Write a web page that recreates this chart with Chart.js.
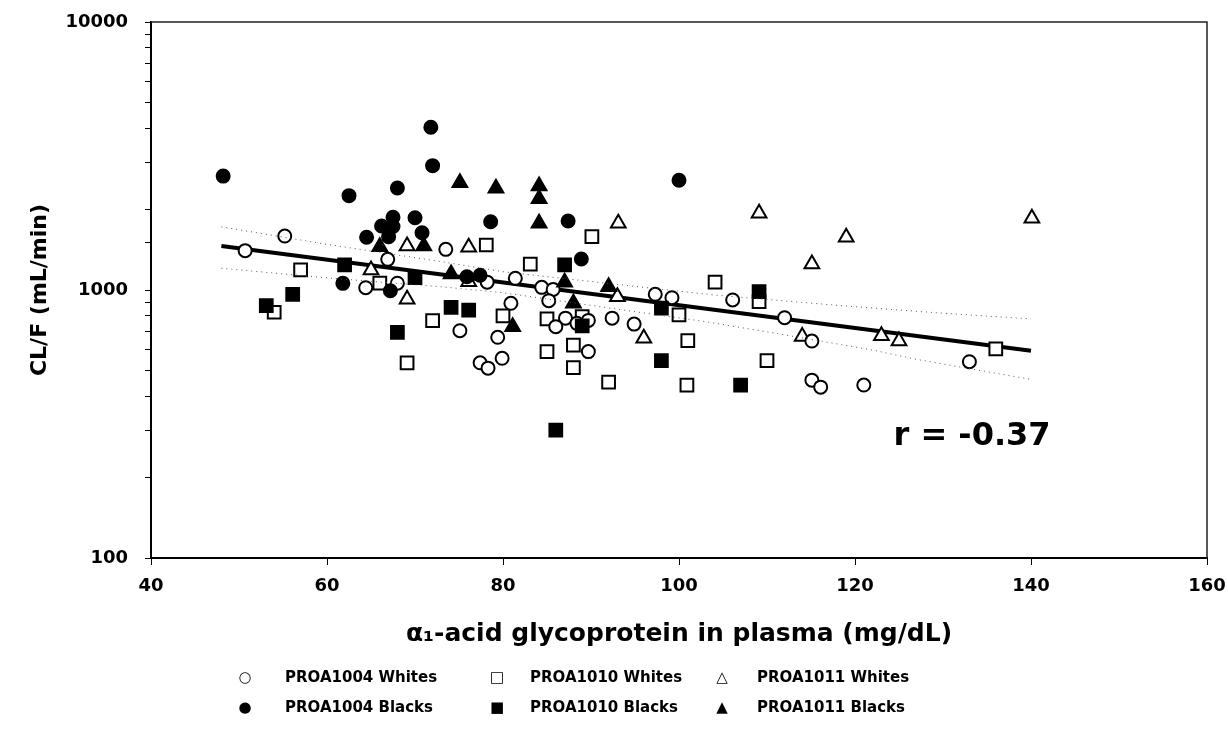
<!DOCTYPE html>
<html>
<head>
<meta charset="utf-8">
<script src="https://cdn.jsdelivr.net/npm/chart.js@4.4.1/dist/chart.umd.min.js"></script>
<style>
  body { margin: 0; background: #fff; }
  #wrap { position: relative; width: 1228px; height: 744px; }
  #legend { position: absolute; left: 0; top: 0; width: 1228px; height: 744px; pointer-events: none;
            font-family: "DejaVu Sans", sans-serif; font-weight: bold; font-size: 15px; color: #000; }
  .sym { position: absolute; width: 20px; text-align: center; font-size: 15px; transform: translate(-50%, -50%); }
  .lbl { position: absolute; transform: translateY(-50%); white-space: nowrap; }
</style>
</head>
<body>
<div id="wrap">
  <canvas id="chart"></canvas>
  <div id="legend"></div>
</div>
<script>
// series values (x = AGP mg/dL, y = CL/F mL/min)
const w1004X = [50.7, 55.2, 66.9, 68.0, 64.4, 73.5, 78.2, 81.4, 84.4, 85.7, 85.2, 80.9, 75.1, 79.4, 87.1, 88.4, 89.7, 86.0, 92.4, 94.9, 97.3, 99.2, 77.4, 78.3, 79.9, 89.7, 106.1, 112.0, 115.1, 115.1, 116.1, 121.0, 133.0];
const w1004Y = [1402, 1590, 1301, 1060, 1020, 1418, 1070, 1106, 1023, 1005, 912, 892, 705, 666, 785, 751, 770, 730, 785, 746, 964, 936, 535, 511, 556, 589, 918, 788, 645, 461, 434, 442, 540];

const b1004X = [48.2, 71.8, 72.0, 62.5, 68.0, 67.5, 70.0, 66.2, 67.5, 70.8, 64.5, 67.0, 61.8, 67.2, 75.9, 77.4, 78.6, 87.4, 88.9, 100.0];
const b1004Y = [2661, 4046, 2910, 2249, 2402, 1868, 1860, 1733, 1725, 1636, 1573, 1580, 1059, 994, 1120, 1135, 1798, 1810, 1305, 2567];

const w1010X = [54.0, 57.0, 66.0, 69.1, 72.0, 78.1, 80.0, 83.1, 85.0, 85.0, 88.0, 88.0, 89.0, 90.1, 92.0, 100.0, 101.0, 100.9, 104.1, 109.1, 110.0, 136.0];
const w1010Y = [826, 1188, 1060, 535, 768, 1472, 800, 1250, 780, 589, 623, 513, 795, 1581, 453, 807, 647, 442, 1069, 905, 545, 603];

const b1010X = [53.1, 56.1, 62.0, 68.0, 70.0, 74.1, 76.1, 86.0, 87.0, 89.0, 98.0, 98.0, 107.0, 109.1];
const b1010Y = [874, 964, 1240, 695, 1112, 861, 842, 300, 1240, 735, 855, 545, 442, 986];

const w1011X = [65.0, 69.1, 69.1, 76.1, 76.1, 93.1, 93.0, 96.0, 109.1, 114.0, 115.1, 119.0, 123.0, 125.0, 140.1];
const w1011Y = [1188, 1460, 923, 1444, 1074, 1773, 944, 661, 1933, 670, 1250, 1573, 675, 645, 1852];

const b1011X = [66.0, 71.0, 74.1, 75.1, 79.2, 84.1, 84.1, 84.1, 81.1, 87.0, 88.0, 92.0];
const b1011Y = [1451, 1460, 1148, 2512, 2395, 2443, 2191, 1773, 730, 1070, 892, 1029];

// regression line and its dotted confidence band
const fitX = [48, 140];
const fitY = [1459, 593];
const upperX = [48, 60, 73, 80, 96, 104, 119, 130, 140];
const upperY = [1720, 1480, 1276, 1170, 1023, 958, 871, 819, 780];
const lowerX = [48, 60, 73, 80, 95, 103, 111, 122, 127, 140];
const lowerY = [1205, 1110, 1028, 977, 830, 762, 689, 597, 551, 464];

const seriesNames = ['PROA1004 Whites', 'PROA1010 Whites', 'PROA1011 Whites',
                     'PROA1004 Blacks', 'PROA1010 Blacks', 'PROA1011 Blacks'];
const yTickLabels = [100, 1000, 10000];
const rText = 'r = -0.37';

const pts = (xs, ys) => xs.map((x, i) => ({ x: x, y: ys[i] }));

function markers(label, xs, ys, style, filled) {
    return {
        label: label,
        data: pts(xs, ys),
        pointStyle: style,
        pointRadius: style === 'circle' ? 6.5 : (style === 'rect' ? 9 : 8.5),
        pointBorderWidth: 2,
        pointBorderColor: '#000',
        pointBackgroundColor: filled ? '#000' : '#fff',
        showLine: false
    };
}

function line(xs, ys, width, dash, color) {
    return {
        label: '',
        data: pts(xs, ys),
        showLine: true,
        pointRadius: 0,
        borderColor: color,
        borderWidth: width,
        borderDash: dash,
        fill: false
    };
}

const frame = {
    id: 'frame',
    afterDraw(chart) {
        const { ctx, chartArea: a, scales } = chart;
        ctx.save();
        ctx.strokeStyle = '#222';
        ctx.lineWidth = 1.5;
        ctx.beginPath();
        ctx.moveTo(a.left, a.top);
        ctx.lineTo(a.right, a.top);
        ctx.lineTo(a.right, a.bottom);
        ctx.stroke();
        ctx.fillStyle = '#000';
        ctx.font = 'bold 32px "DejaVu Sans"';
        ctx.textAlign = 'center';
        ctx.textBaseline = 'middle';
        ctx.fillText(rText, scales.x.getPixelForValue(133.3), scales.y.getPixelForValue(283));
        ctx.restore();
    }
};

const bold = (size) => ({ family: '"DejaVu Sans", sans-serif', weight: 'bold', size: size });

new Chart(document.getElementById('chart'), {
    type: 'scatter',
    data: {
        datasets: [
            line(upperX, upperY, 1, [1, 4], '#555'),
            line(lowerX, lowerY, 1, [1, 4], '#555'),
            markers(seriesNames[3], b1004X, b1004Y, 'circle', true),
            markers(seriesNames[4], b1010X, b1010Y, 'rect', true),
            markers(seriesNames[5], b1011X, b1011Y, 'triangle', true),
            markers(seriesNames[0], w1004X, w1004Y, 'circle', false),
            markers(seriesNames[1], w1010X, w1010Y, 'rect', false),
            markers(seriesNames[2], w1011X, w1011Y, 'triangle', false),
            line(fitX, fitY, 4, [], '#000')
        ]
    },
    options: {
        responsive: true,
        maintainAspectRatio: false,
        animation: false,
        layout: { padding: { top: 22, right: 21, left: 0, bottom: 0 } },
        plugins: { legend: { display: false }, tooltip: { enabled: false } },
        scales: {
            x: {
                type: 'linear',
                min: 40, max: 160,
                afterFit: (s) => { s.height = 186; s.paddingLeft = 0; s.paddingRight = 0; },
                border: { color: '#000', width: 2 },
                grid: { drawOnChartArea: false, drawTicks: true, tickLength: 7, tickColor: '#000' },
                ticks: { stepSize: 20, color: '#000', font: bold(18), padding: 11, maxRotation: 0 },
                title: { display: true, text: 'α₁-acid glycoprotein in plasma (mg/dL)', color: '#000',
                         font: bold(25), padding: { top: 4, bottom: 95 } }
            },
            y: {
                type: 'logarithmic',
                min: 100, max: 10000,
                afterFit: (s) => { s.width = 151; s.paddingTop = 0; s.paddingBottom = 0; },
                border: { color: '#000', width: 2 },
                grid: { drawOnChartArea: false, drawTicks: true, tickLength: 6, tickColor: '#000' },
                ticks: {
                    color: '#000', font: bold(18), padding: 17,
                    callback: (v) => yTickLabels.includes(v) ? String(v) : ''
                },
                title: { display: true, text: 'CL/F (mL/min)', color: '#000',
                         font: bold(22), padding: { top: 27, bottom: 0 } }
            }
        }
    },
    plugins: [frame]
});

// legend laid out in three columns, two rows, like the original figure
const symbols = ['○', '□', '△', '●', '■', '▲'];
const colSym = [245, 497, 722];
const colTxt = [285, 530, 757];
const rowY = [677, 707];
const legend = document.getElementById('legend');
seriesNames.forEach((name, i) => {
    const c = i % 3, r = Math.floor(i / 3);
    const s = document.createElement('span');
    s.className = 'sym';
    s.style.left = colSym[c] + 'px';
    s.style.top = rowY[r] + 'px';
    s.textContent = symbols[i];
    legend.appendChild(s);
    const t = document.createElement('span');
    t.className = 'lbl';
    t.style.left = colTxt[c] + 'px';
    t.style.top = rowY[r] + 'px';
    t.textContent = name;
    legend.appendChild(t);
});
</script>
</body>
</html>
